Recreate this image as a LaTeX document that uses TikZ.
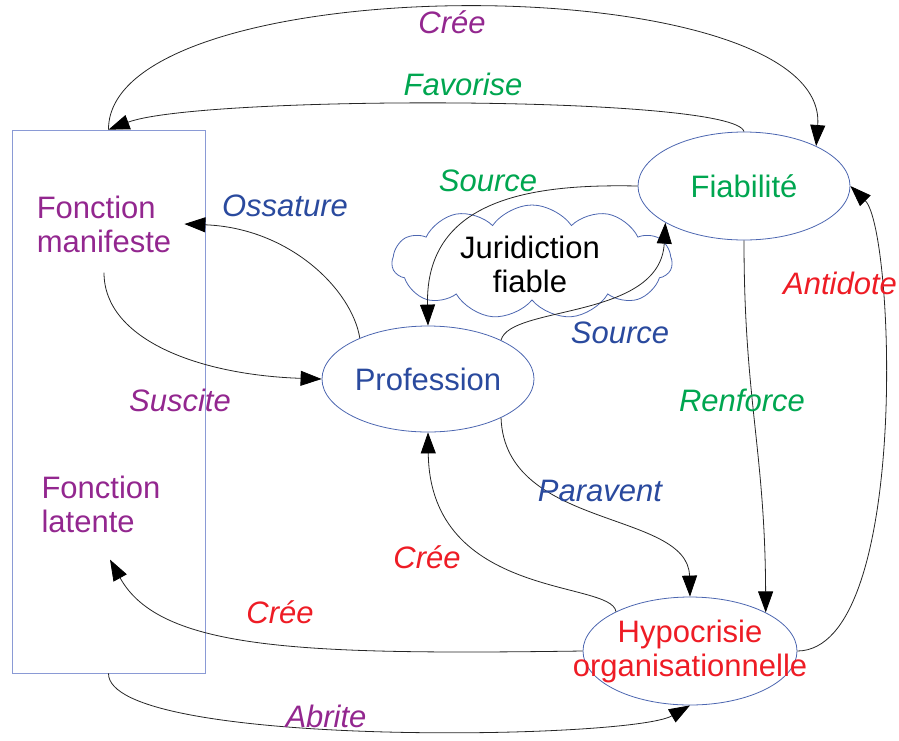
\documentclass[tikz,border=0pt]{standalone}
\usepackage{fontspec}
\setmainfont{Liberation Sans}
\usetikzlibrary{arrows.meta,shapes.geometric,shapes.symbols}
\definecolor{cpurple}{HTML}{93278F}
\definecolor{cblue}{HTML}{2A4A9E}
\definecolor{cgreen}{HTML}{00A650}
\definecolor{cred}{HTML}{EE1C25}
\definecolor{edgeblue}{HTML}{4C66B0}
\definecolor{boxblue}{HTML}{8A9AD5}
\begin{document}
\begin{tikzpicture}[x=1pt,y=-1pt,
  every node/.style={font=\fontsize{31}{34}\selectfont},
  oval/.style={ellipse, draw=edgeblue, line width=0.8pt, minimum width=212pt,
    minimum height=106pt, inner sep=0pt},
  txt/.style={align=center, inner sep=0pt},
  lbl/.style={font=\fontsize{31}{34}\selectfont\itshape, inner sep=0pt},
  conn/.style={draw=black!85, line width=0.8pt,
    -{Triangle[length=21pt,width=15pt,color=black]}},
]
\useasboundingbox (0,0) rectangle (899,740);

% frame holding the two functions
\node[draw=boxblue, line width=0.8pt, minimum width=193pt, minimum height=543pt,
      inner sep=0pt] (box) at (108.5,401.5) {};
\node[align=left, text=cpurple, inner xsep=13pt, inner ysep=20pt] (manif) at (104,224)
  {Fonction\\manifeste};
\node[align=left, text=cpurple, inner xsep=4pt, inner ysep=27pt] (latent) at (101,504)
  {Fonction\\latente};

% main concepts
\node[oval] (prof) at (428,379) {};
\node[txt, text=cblue] (proft) at (prof) {Profession};
\node[oval, minimum width=212pt, minimum height=108pt] (fiab) at (744,186) {};
\node[txt, text=cgreen] (fiabt) at (fiab) {Fiabilité};
\node[oval, minimum width=214pt, minimum height=108pt] (hypo) at (690,651) {};
\node[txt, text=cred] (hypot) at (hypo) {Hypocrisie\\organisationnelle};
\node[cloud, draw=edgeblue, line width=0.8pt, cloud puffs=11, cloud puff arc=110,
      aspect=2.4, minimum width=280pt, minimum height=114pt, inner sep=0pt]
  (cloud) at (532,262) {};
\node[txt] (cloudt) at (530,264) {Juridiction\\fiable};

% connectors
\draw[conn] (box.north) .. controls (108,-35) and (830,-35) .. (fiab.29);
\draw[conn] (fiab.north) .. controls (735,95) and (200,95) .. (box.north);
\draw[conn] (prof.149) .. controls (352,290) and (290,228) .. (manif.east);
\draw[conn] (manif.south) .. controls (104,340) and (200,375) .. (prof.west);
\draw[conn] (fiab.west) .. controls (540,184) and (425,195) .. (prof.north);
\draw[conn] (prof.28) .. controls (510,305) and (660,320) .. (fiab.205);
\draw[conn] (prof.332) .. controls (505,530) and (688,510) .. (hypo.north);
\draw[conn] (fiab.south) .. controls (744,400) and (765,450) .. (hypo.27);
\draw[conn] (hypo.east) .. controls (910,650) and (895,230) .. (fiab.east);
\draw[conn] (hypo.152) .. controls (612,580) and (430,600) .. (prof.south);
\draw[conn] (hypo.west) .. controls (300,655) and (160,650) .. ([xshift=9pt]latent.south);
\draw[conn] (box.south) .. controls (108,748) and (630,740) .. (hypo.south);

% connector labels
\node[lbl, text=cpurple] (l1) at (452,22) {Crée};
\node[lbl, text=cgreen] (l2) at (463,84) {Favorise};
\node[lbl, text=cblue] (l3) at (285,206) {Ossature};
\node[lbl, text=cgreen] (l4) at (488,181) {Source};
\node[lbl, text=cblue] (l5) at (620,333) {Source};
\node[lbl, text=cred] (l6) at (840,283) {Antidote};
\node[lbl, text=cgreen] (l7) at (742,400) {Renforce};
\node[lbl, text=cpurple] (l8) at (180,400) {Suscite};
\node[lbl, text=cblue] (l9) at (600,491) {Paravent};
\node[lbl, text=cred] (l10) at (427,557) {Crée};
\node[lbl, text=cred] (l11) at (280,612) {Crée};
\node[lbl, text=cpurple] (l12) at (326,716) {Abrite};
\end{tikzpicture}
\end{document}
